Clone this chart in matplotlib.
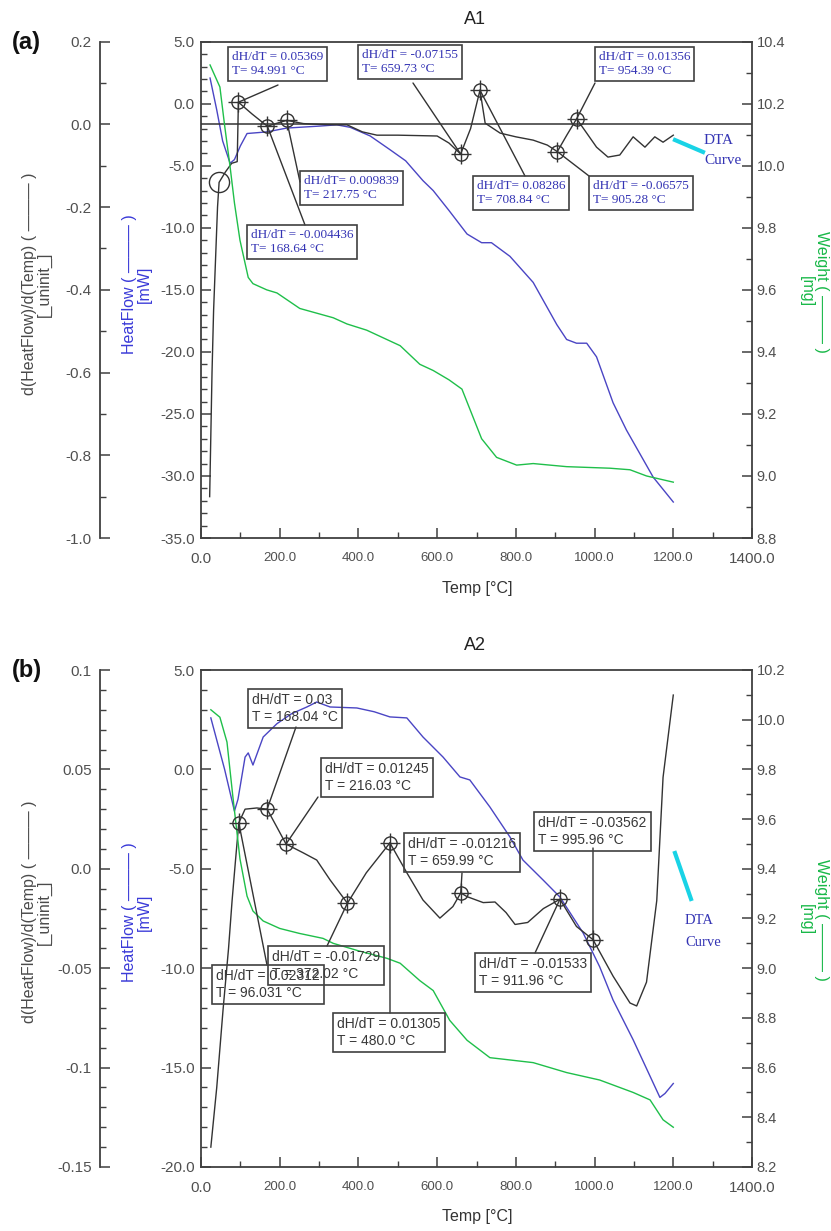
import numpy as np
import matplotlib
matplotlib.use('Agg')
import matplotlib.pyplot as plt
from matplotlib.ticker import MultipleLocator, FormatStrFormatter, FixedLocator, FixedFormatter

plt.rcParams['font.family'] = ['Liberation Sans', 'DejaVu Sans']
plt.rcParams['axes.unicode_minus'] = False

W, H = 831, 1231

# ---------------- Panel (a) : A1 ----------------
a1_T_hf = [23, 40, 55, 74, 85, 100, 117, 167, 218, 302, 345, 379, 430, 480, 520, 564, 590, 630, 676,
           713, 738, 785, 844, 904, 929, 954, 980, 1005, 1047, 1081, 1149, 1200]
a1_hf = [2.07, -0.5, -3.0, -4.8, -4.5, -3.4, -2.4, -2.27, -1.96, -1.8, -1.7, -1.9, -2.6, -3.7, -4.6,
         -6.2, -7.0, -8.6, -10.5, -11.2, -11.2, -12.3, -14.4, -17.8, -19.0, -19.3, -19.3, -20.4,
         -24.1, -26.3, -30.1, -32.1]

a1_T_w = [23, 48, 60, 74, 85, 99, 120, 132, 167, 193, 251, 336, 371, 421, 506, 556, 590, 630, 663,
          688, 713, 751, 802, 844, 929, 1039, 1090, 1132, 1200]
a1_w = [10.325, 10.254, 10.13, 9.996, 9.88, 9.76, 9.64, 9.62, 9.60, 9.59, 9.54, 9.51, 9.49, 9.47,
        9.42, 9.36, 9.34, 9.31, 9.28, 9.20, 9.12, 9.06, 9.035, 9.04, 9.03, 9.025, 9.02, 9.00, 8.98]

a1_T_d = [22, 25, 28, 32, 38, 42, 46, 62, 78, 92, 94.991, 130, 168.64, 190, 217.75, 260, 300, 340,
          371, 410, 447, 500, 550, 600, 630, 659.73, 685, 708.84, 722, 760, 800, 844, 880, 905.28,
          930, 954.39, 980, 1005, 1034, 1064, 1098, 1128, 1153, 1174, 1200]
a1_d = [-0.90, -0.75, -0.60, -0.45, -0.30, -0.20, -0.14, -0.115, -0.094, -0.09, 0.05369, 0.025,
        -0.004436, 0.002, 0.009839, 0.002, 0.0, -0.001, -0.001, -0.018, -0.026, -0.026, -0.027,
        -0.028, -0.045, -0.07155, -0.01, 0.08286, 0.003, -0.021, -0.030, -0.038, -0.050, -0.06575,
        -0.025, 0.01356, -0.021, -0.055, -0.079, -0.074, -0.030, -0.055, -0.030, -0.043, -0.026]

a1_circle_T = [45.7]
a1_circle_d = [-0.1385]

a1_ann_T = [94.991, 217.75, 168.64, 659.73, 708.84, 954.39, 905.28]
a1_ann_d = [0.05369, 0.009839, -0.004436, -0.07155, 0.08286, 0.01356, -0.06575]
a1_ann_text = ["dH/dT = 0.05369\nT= 94.991 °C",
               "dH/dT= 0.009839\nT= 217.75 °C",
               "dH/dT = -0.004436\nT= 168.64 °C",
               "dH/dT = -0.07155\nT= 659.73 °C",
               "dH/dT= 0.08286\nT= 708.84 °C",
               "dH/dT = 0.01356\nT= 954.39 °C",
               "dH/dT = -0.06575\nT= 905.28 °C"]

a1_d_ticks = [0.2, 0.0, -0.2, -0.4, -0.6, -0.8, -1.0]
a1_d_ticklabels = ['0.2', '0.0', '-0.2', '-0.4', '-0.6', '-0.8', '-1.0']

# ---------------- Panel (b) : A2 ----------------
a2_T_hf = [25, 60, 85, 94, 112, 120, 132, 158, 193, 230, 269, 294, 328, 396, 440, 480, 523, 564, 615,
           658, 683, 734, 785, 818, 869, 912, 971, 1013, 1047, 1098, 1166, 1179, 1200]
a2_hf = [2.59, 0.0, -2.1, -1.5, 0.62, 0.83, 0.22, 1.63, 2.3, 2.8, 3.14, 3.39, 3.14, 3.09, 2.9, 2.64,
         2.59, 1.63, 0.62, -0.38, -0.53, -1.89, -3.40, -4.56, -5.56, -6.42, -8.23, -9.93, -11.6,
         -13.6, -16.5, -16.3, -15.8]

a2_T_w = [25, 48, 66, 81, 99, 117, 132, 158, 200, 250, 310, 336, 400, 472, 506, 556, 590, 632, 676,
          734, 844, 929, 1013, 1098, 1141, 1174, 1200]
a2_w = [10.04, 10.01, 9.91, 9.69, 9.44, 9.29, 9.23, 9.19, 9.16, 9.14, 9.12, 9.10, 9.07, 9.04, 9.02,
        8.95, 8.91, 8.79, 8.71, 8.64, 8.62, 8.58, 8.55, 8.50, 8.47, 8.39, 8.36]

a2_T_d = [25, 40, 56, 70, 79, 88, 96.031, 112, 142, 168.04, 190, 216.03, 260, 294, 328, 372.02, 420,
          480.0, 523, 564, 607, 640, 659.99, 676, 717, 747, 775, 798, 830, 870, 911.96, 954, 995.96,
          1047, 1090, 1107, 1132, 1158, 1174, 1200]
a2_d = [-0.140, -0.110, -0.071, -0.040, -0.016, 0.005, 0.02312, 0.030, 0.0306, 0.03, 0.022, 0.01245,
        0.008, 0.0044, -0.0056, -0.01729, -0.002, 0.01305, -0.002, -0.0157, -0.0248, -0.019,
        -0.01216, -0.014, -0.017, -0.0167, -0.022, -0.028, -0.027, -0.020, -0.01533, -0.029,
        -0.03562, -0.054, -0.0675, -0.069, -0.057, -0.016, 0.046, 0.0874]

a2_ann_T = [96.031, 168.04, 216.03, 372.02, 480.0, 659.99, 911.96, 995.96]
a2_ann_d = [0.02312, 0.03, 0.01245, -0.01729, 0.01305, -0.01216, -0.01533, -0.03562]
a2_ann_text = ["dH/dT = 0.02312\nT = 96.031 °C",
               "dH/dT = 0.03\nT = 168.04 °C",
               "dH/dT = 0.01245\nT = 216.03 °C",
               "dH/dT = -0.01729\nT = 372.02 °C",
               "dH/dT = 0.01305\nT = 480.0 °C",
               "dH/dT = -0.01216\nT = 659.99 °C",
               "dH/dT = -0.01533\nT = 911.96 °C",
               "dH/dT = -0.03562\nT = 995.96 °C"]

a2_d_ticks = [0.1, 0.05, 0.0, -0.05, -0.1, -0.15]
a2_d_ticklabels = ['0.1', '0.05', '0.0', '-0.05', '-0.1', '-0.15']

x_ticks = [0, 200, 400, 600, 800, 1000, 1200, 1400]
x_ticklabels = ['0.0', '200.0', '400.0', '600.0', '800.0', '1000.0', '1200.0', '1400.0']

# ---------------- styles / layout ----------------
C_AX = '#404040'
C_TICK = '#505050'
C_BLACK = '#333333'
C_BLUE = '#4a45c4'
C_GREEN = '#1fbf4a'
C_CYAN = '#19d3e6'
C_LBL_BLUE = '#3a3ad8'
C_LBL_GREEN = '#18b848'
C_SERIF_BLUE = '#3434b4'

fig = plt.figure(figsize=(W / 100, H / 100), dpi=100)


def fx(px):
    return px / W


def fy(py):
    return 1 - py / H


def style_ticks(axis_obj, pad, size):
    axis_obj.set_tick_params(which='major', direction='in', length=7, width=1.1, color=C_AX,
                             labelcolor=C_TICK, labelsize=size, pad=pad)
    axis_obj.set_tick_params(which='minor', direction='in', length=4, width=1.0, color=C_AX)


def panel(top_px, bot_px, T_hf, hf, T_w, w, T_d, d, hf_lim, d_lim, w_lim, d_ticks, d_ticklabels,
          d_minor, w_major, ann_T, ann_d, ann_text, ann_boxes, ann_attach, ann_font, ann_color,
          ann_size, zero_line):
    left_px, right_px = 201, 752
    rect = [fx(left_px), fy(bot_px), (right_px - left_px) / W, (bot_px - top_px) / H]
    ax = fig.add_axes(rect)
    ax.set_xlim(0, 1400)
    ax.set_ylim(*hf_lim)
    ax.set_xticks(x_ticks)
    ax.set_xticklabels(x_ticklabels)
    ax.xaxis.set_minor_locator(MultipleLocator(100))
    ax.yaxis.set_major_locator(MultipleLocator(5))
    ax.yaxis.set_major_formatter(FormatStrFormatter('%.1f'))
    ax.yaxis.set_minor_locator(MultipleLocator(1))
    style_ticks(ax.xaxis, 10, 9.5)
    style_ticks(ax.yaxis, 4.5, 11)
    xl = ax.get_xticklabels()
    xl[0].set_fontsize(11)
    xl[-1].set_fontsize(11)
    for s in ['left', 'bottom', 'top']:
        ax.spines[s].set_color(C_AX)
        ax.spines[s].set_linewidth(1.3)
    ax.spines['right'].set_visible(False)
    ax.plot(T_hf, hf, color=C_BLUE, lw=1.0, zorder=2)

    # derivative axis (outer left)
    ax_d = ax.twinx()
    ax_d.yaxis.set_ticks_position('left')
    ax_d.yaxis.set_label_position('left')
    ax_d.spines['left'].set_position(('axes', (100 - left_px) / (right_px - left_px)))
    ax_d.spines['left'].set_visible(True)
    ax_d.spines['left'].set_color(C_AX)
    ax_d.spines['left'].set_linewidth(1.3)
    for s in ['right', 'top', 'bottom']:
        ax_d.spines[s].set_visible(False)
    ax_d.set_ylim(*d_lim)
    ax_d.yaxis.set_major_locator(FixedLocator(d_ticks))
    ax_d.yaxis.set_major_formatter(FixedFormatter(d_ticklabels))
    ax_d.yaxis.set_minor_locator(MultipleLocator(d_minor))
    style_ticks(ax_d.yaxis, 6, 11)
    ax_d.plot(T_d, d, color=C_BLACK, lw=1.0, zorder=3)
    if zero_line:
        ax_d.axhline(0.0, color=C_BLACK, lw=1.1, zorder=2)

    # weight axis (right)
    ax_w = ax.twinx()
    for s in ['left', 'top', 'bottom']:
        ax_w.spines[s].set_visible(False)
    ax_w.spines['right'].set_color(C_AX)
    ax_w.spines['right'].set_linewidth(1.3)
    ax_w.set_ylim(*w_lim)
    ax_w.yaxis.set_major_locator(MultipleLocator(w_major))
    ax_w.yaxis.set_major_formatter(FormatStrFormatter('%.1f'))
    ax_w.yaxis.set_minor_locator(MultipleLocator(w_major / 2))
    style_ticks(ax_w.yaxis, 3.5, 10.5)
    ax_w.plot(T_w, w, color=C_GREEN, lw=1.0, zorder=2)

    # annotation markers
    ax_w.plot(ann_T, ann_d, transform=ax_d.transData, ls='none', marker='o', ms=9.5, mfc='none',
              mec=C_BLACK, mew=1.0, zorder=5)
    ax_w.plot(ann_T, ann_d, transform=ax_d.transData, ls='none', marker='+', ms=14, mec=C_BLACK,
              mew=1.0, zorder=5)

    pad_pt = 0.3 * ann_size
    pad_px = pad_pt * 100 / 72
    for T, dv, txt, (bx, by), (axp, ayp) in zip(ann_T, ann_d, ann_text, ann_boxes, ann_attach):
        ax_w.annotate('', xy=(T, dv), xycoords=ax_d.transData, xytext=(fx(axp), fy(ayp)),
                      textcoords='figure fraction', annotation_clip=False,
                      arrowprops=dict(arrowstyle='-', color=C_BLACK, lw=1.0, shrinkA=0, shrinkB=0))
        fig.text(fx(bx + pad_px), fy(by + pad_px), txt, ha='left', va='top', fontsize=ann_size,
                 family=ann_font, color=ann_color, linespacing=1.25,
                 bbox=dict(boxstyle='square,pad=0.3', fc='none', ec=C_AX, lw=1.2), zorder=6)
    return ax, ax_d, ax_w


# ---------- panel (a)
a1_boxes = [(228, 47), (300, 171), (247, 225), (358, 45), (473, 176), (595, 47), (589, 176)]
a1_attach = [(278, 85), (300, 182), (305, 225), (413, 83), (525, 176), (595, 83), (589, 176)]
ax1, ax1d, ax1w = panel(41.7, 538, a1_T_hf, a1_hf, a1_T_w, a1_w, a1_T_d, a1_d, (-35, 5), (-1.0, 0.2),
                        (8.8, 10.4), a1_d_ticks, a1_d_ticklabels, 0.1, 0.2, a1_ann_T, a1_ann_d,
                        a1_ann_text, a1_boxes, a1_attach, 'Liberation Serif', C_SERIF_BLUE, 9.5, True)
ax1w.plot(a1_circle_T, a1_circle_d, transform=ax1d.transData, ls='none', marker='o', ms=14.5,
          mfc='none', mec=C_BLACK, mew=1.0, zorder=5)

# ---------- panel (b)
a2_boxes = [(212, 965), (248, 689), (321, 758), (268, 946), (333, 1013), (404, 833), (475, 953), (534, 812)]
a2_attach = [(267, 965), (296, 727), (318, 797), (327, 946), (390, 1013), (462, 873), (535, 953), (593, 848)]
ax2, ax2d, ax2w = panel(670, 1167, a2_T_hf, a2_hf, a2_T_w, a2_w, a2_T_d, a2_d, (-20, 5), (-0.15, 0.1),
                        (8.2, 10.2), a2_d_ticks, a2_d_ticklabels, 0.01, 0.2, a2_ann_T, a2_ann_d,
                        a2_ann_text, a2_boxes, a2_attach, 'Liberation Sans', '#383838', 10, False)

# ---------- titles, labels, DTA legends
for (ty, title, plab, ply, ymid) in [(20, 'A1', '(a)', 43, 284), (645, 'A2', '(b)', 671, 912)]:
    fig.text(fx(475), fy(ty), title, ha='center', va='center', fontsize=13, color='#222222')
    fig.text(fx(12), fy(ply), plab, ha='left', va='center', fontsize=17, fontweight='bold',
             color='#111111')
    fig.text(fx(37), fy(ymid), 'd(HeatFlow)/d(Temp) ( ——— )\n[_uninit_]', rotation=90, ha='center',
             va='center', fontsize=11.5, color='#4a4a4a', multialignment='center', linespacing=1.05)
    fig.text(fx(137), fy(ymid), 'HeatFlow ( ——— )\n[mW]', rotation=90, ha='center', va='center',
             fontsize=11.5, color=C_LBL_BLUE, multialignment='center', linespacing=1.05)
    fig.text(fx(814), fy(ymid + 8), 'Weight ( ——— )\n[mg]', rotation=-90, ha='center', va='center',
             fontsize=11.5, color=C_LBL_GREEN, multialignment='center', linespacing=1.05)

fig.text(fx(477), fy(588), 'Temp [°C]', ha='center', va='center', fontsize=11.5, color='#333333')
fig.text(fx(477), fy(1217), 'Temp [°C]', ha='center', va='center', fontsize=11.5, color='#333333')

# DTA curve labels
fig.add_artist(plt.Line2D([fx(675), fx(703)], [fy(140), fy(152)], color=C_CYAN, lw=3))
fig.text(fx(704), fy(141), 'DTA', ha='left', va='center', fontsize=11, family='Liberation Serif',
         color=C_SERIF_BLUE)
fig.text(fx(704), fy(161), 'Curve', ha='left', va='center', fontsize=11, family='Liberation Serif',
         color=C_SERIF_BLUE)
fig.add_artist(plt.Line2D([fx(675), fx(691)], [fy(853), fy(899)], color=C_CYAN, lw=3))
fig.text(fx(685), fy(921), 'DTA', ha='left', va='center', fontsize=10.5, family='Liberation Serif',
         color=C_SERIF_BLUE)
fig.text(fx(685), fy(942), 'Curve', ha='left', va='center', fontsize=10.5, family='Liberation Serif',
         color=C_SERIF_BLUE)

fig.savefig('out.png', dpi=100)
